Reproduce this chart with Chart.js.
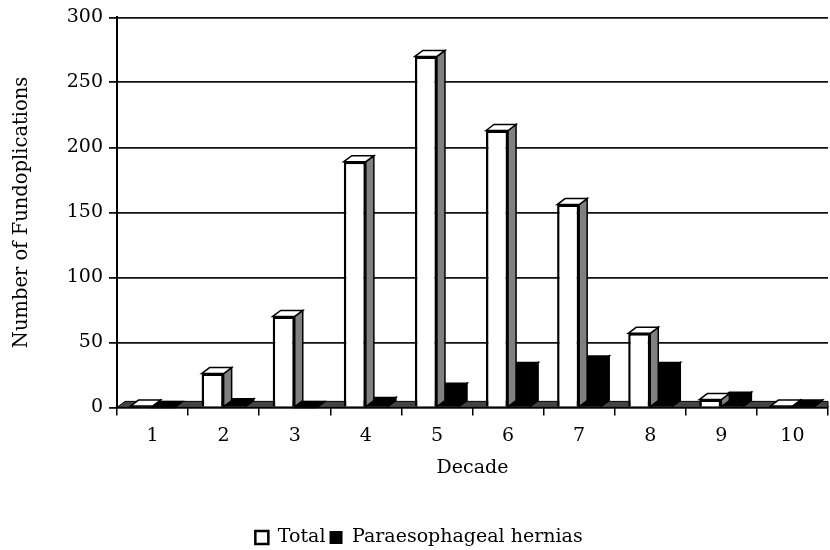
<!DOCTYPE html>
<html>
<head>
<title>Fundoplications by decade</title>
<script src="https://cdn.jsdelivr.net/npm/chart.js@4/dist/chart.umd.min.js"></script>
<style>
  body { margin: 0; background: #fff; }
</style>
</head>
<body>
<canvas id="canvas" width="830" height="550"></canvas>
<script>
const decades = ['1', '2', '3', '4', '5', '6', '7', '8', '9', '10'];
const totalCounts = [1, 26, 70, 189, 270, 213, 156, 57, 6, 1];
const paraCounts = [0, 2, 0, 3, 14, 30, 35, 30, 7, 1];

const serif = 'DejaVu Serif';
const DX = 8, DY = 6; // fake 3d depth

// draws the side and top faces of each bar, right after its dataset
const depthPlugin = {
  id: 'depth',
  beforeDatasetsDraw(chart) {
    const { ctx, chartArea: a } = chart;
    ctx.save();
    ctx.fillStyle = '#444';
    ctx.strokeStyle = '#000';
    ctx.lineWidth = 1;
    ctx.beginPath();
    ctx.moveTo(a.left, a.bottom);
    ctx.lineTo(a.left + DX, a.bottom - DY);
    ctx.lineTo(a.right, a.bottom - DY);
    ctx.lineTo(a.right, a.bottom);
    ctx.closePath();
    ctx.fill();
    ctx.stroke();
    ctx.restore();
  },
  afterDatasetDraw(chart, args) {
    const ds = chart.data.datasets[args.index];
    const ctx = chart.ctx;
    ctx.save();
    ctx.strokeStyle = '#000';
    ctx.lineWidth = 1.5;
    args.meta.data.forEach(bar => {
      const { x, y, base, width } = bar.getProps(['x', 'y', 'base', 'width'], true);
      const l = x - width / 2, r = x + width / 2;
      // side
      ctx.beginPath();
      ctx.moveTo(r, y);
      ctx.lineTo(r + DX, y - DY);
      ctx.lineTo(r + DX, base - DY);
      ctx.lineTo(r, base);
      ctx.closePath();
      ctx.fillStyle = ds.sideColor;
      ctx.fill();
      ctx.stroke();
      // top
      ctx.beginPath();
      ctx.moveTo(l, y);
      ctx.lineTo(l + DX, y - DY);
      ctx.lineTo(r + DX, y - DY);
      ctx.lineTo(r, y);
      ctx.closePath();
      ctx.fillStyle = ds.topColor;
      ctx.fill();
      ctx.stroke();
    });
    ctx.restore();
  }
};

const chart = new Chart(document.getElementById('canvas'), {
  type: 'bar',
  data: {
    labels: decades,
    datasets: [
      {
        label: 'Total',
        data: totalCounts,
        backgroundColor: '#fff',
        borderColor: '#000',
        borderWidth: 2.5,
        sideColor: '#808080',
        topColor: '#fff'
      },
      {
        label: 'Paraesophageal hernias',
        data: paraCounts,
        backgroundColor: '#000',
        borderColor: '#000',
        borderWidth: 0,
        sideColor: '#000',
        topColor: '#000'
      }
    ]
  },
  options: {
    responsive: false,
    animation: false,
    layout: { padding: { top: 17, right: 2, left: 10, bottom: -7 } },
    datasets: { bar: { categoryPercentage: 0.62, barPercentage: 1.0 } },
    plugins: {
      tooltip: { enabled: false },
      legend: {
        position: 'bottom',
        labels: {
          color: '#000',
          font: { family: serif, size: 19, lineHeight: 1 },
          boxWidth: 13,
          boxHeight: 13,
          padding: 4
        }
      }
    },
    scales: {
      x: {
        grid: { drawOnChartArea: false, color: '#000', tickLength: 8, lineWidth: 1.5 },
        border: { color: '#000', width: 2 },
        ticks: { color: '#000', font: { family: serif, size: 19 }, padding: 9 },
        title: {
          display: true,
          text: 'Decade',
          color: '#000',
          font: { family: serif, size: 19 },
          padding: { top: 0, bottom: 45 }
        }
      },
      y: {
        min: 0,
        max: 300,
        ticks: { stepSize: 50, color: '#000', font: { family: serif, size: 19 }, padding: 6 },
        grid: { color: '#111', lineWidth: 1.8, tickLength: 8 },
        border: { color: '#000', width: 2 },
        title: {
          display: true,
          text: 'Number of Fundoplications',
          color: '#000',
          font: { family: serif, size: 19.5 },
          padding: 0
        },
        afterFit(scale) { scale.width = 107; }
      }
    }
  },
  plugins: [depthPlugin]
});
</script>
</body>
</html>
